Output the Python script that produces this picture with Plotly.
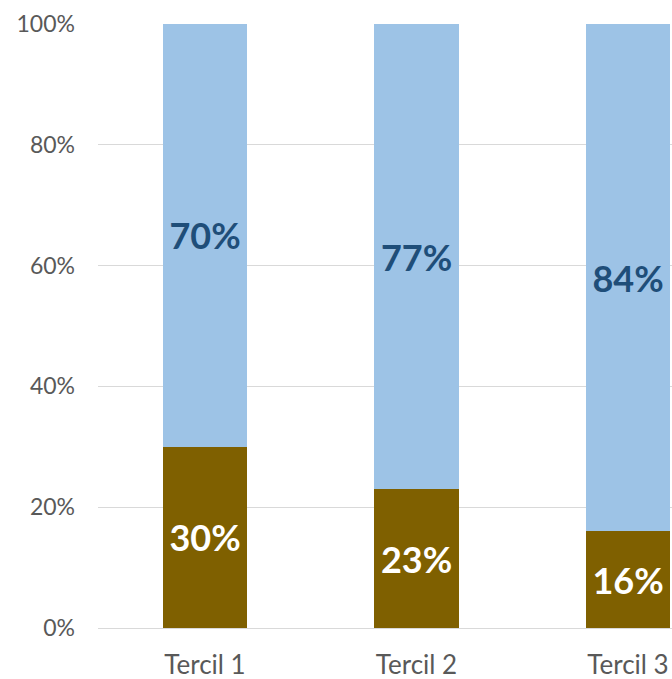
import plotly.graph_objects as go

# Share of respondents per income tercile (stacked to 100%)
categories = ["Tercil 1", "Tercil 2", "Tercil 3"]
lower_share = [30, 23, 16]   # brown segment
upper_share = [70, 77, 84]   # light blue segment
y_ticks = [0, 20, 40, 60, 80, 100]
y_tick_labels = ["0%", "20%", "40%", "60%", "80%", "100%"]

fig = go.Figure()
fig.add_trace(go.Bar(
    x=categories, y=lower_share,
    marker=dict(color="#7F6000", line=dict(width=0)),
    text=[f"{v}%" for v in lower_share],
    textposition="inside", insidetextanchor="middle", constraintext="none",
    textfont=dict(family="Lato", size=36, color="white", weight="bold"),
    width=0.4, hoverinfo="skip",
))
fig.add_trace(go.Bar(
    x=categories, y=upper_share,
    marker=dict(color="#9DC3E6", line=dict(width=0)),
    text=[f"{v}%" for v in upper_share],
    textposition="inside", insidetextanchor="middle", constraintext="none",
    textfont=dict(family="Lato", size=36, color="#1F4E79", weight="bold"),
    width=0.4, hoverinfo="skip",
))

fig.update_layout(
    barmode="stack",
    width=672, height=679,
    margin=dict(l=98, r=0, t=24, b=51),
    plot_bgcolor="white", paper_bgcolor="white",
    showlegend=False,
    font=dict(family="Lato", color="#595959"),
)
fig.update_xaxes(
    range=[-0.506, 2.208], showgrid=False, showline=False, zeroline=False,
    ticks="", ticklabelstandoff=19,
    tickfont=dict(family="Lato", size=26, color="#595959"),
)
fig.update_yaxes(
    range=[0, 100], tickvals=y_ticks, ticktext=y_tick_labels,
    showgrid=True, gridcolor="#D9D9D9", gridwidth=1,
    zeroline=True, zerolinecolor="#D9D9D9", zerolinewidth=1,
    showline=False, ticks="", ticklabelstandoff=22,
    tickfont=dict(family="Lato", size=23, color="#595959"),
)

fig.write_html("out.html")
